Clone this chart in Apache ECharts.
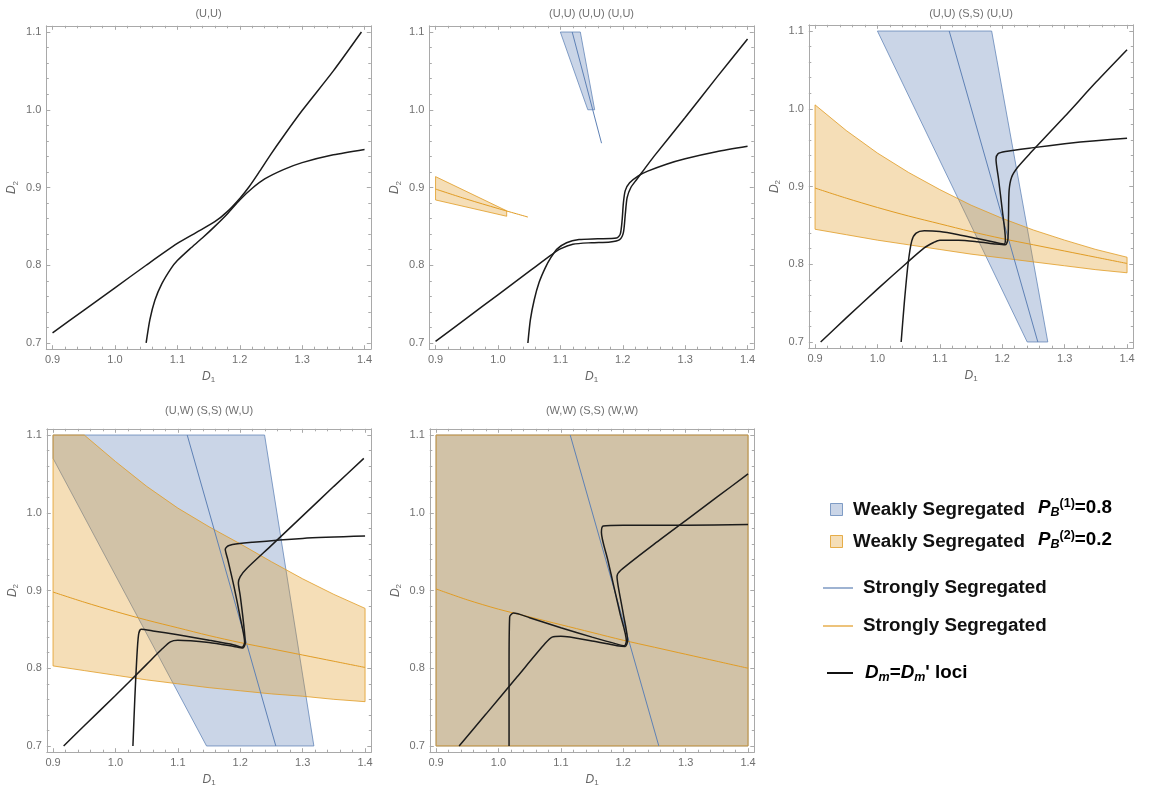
<!DOCTYPE html>
<html><head><meta charset="utf-8">
<script src="https://cdn.jsdelivr.net/npm/echarts@6/dist/echarts.min.js"></script>
<style>html,body{margin:0;padding:0;background:#fff}#c{width:1149px;height:789px}</style>
</head><body><div id="c"></div>
<script>
// ================= DATA =================
const xTicks = [0.9, 1.0, 1.1, 1.2, 1.3, 1.4];
const yTicks = [0.7, 0.8, 0.9, 1.0, 1.1];
const panelTitles = ['(U,U)', '(U,U) (U,U) (U,U)', '(U,U) (S,S) (U,U)', '(U,W) (S,S) (W,U)', '(W,W) (S,S) (W,W)'];

// x positions for band edges
const bandX = [0.9, 0.95, 1.0, 1.05, 1.1, 1.15, 1.2, 1.25, 1.3, 1.35, 1.4];
// orange (P_B(2)) weakly segregated band edges
const orangeUpper3 = [1.005, 0.972, 0.943, 0.918, 0.896, 0.876, 0.859, 0.844, 0.831, 0.819, 0.809];
const orangeLower3 = [0.845, 0.838, 0.831, 0.825, 0.819, 0.813, 0.808, 0.803, 0.798, 0.793, 0.789];
const orangeUpper4 = [1.1, 1.1, 1.066, 1.034, 1.006, 0.982, 0.96, 0.937, 0.915, 0.895, 0.877];
const orangeLower4 = [0.803, 0.797, 0.791, 0.785, 0.78, 0.775, 0.771, 0.767, 0.764, 0.76, 0.757];
// orange strongly segregated line
const orangeMid = [0.898, 0.885, 0.873, 0.862, 0.852, 0.842, 0.833, 0.825, 0.817, 0.809, 0.801];
const orangeMid5 = [0.902, 0.888, 0.876, 0.866, 0.856, 0.846, 0.836, 0.827, 0.818, 0.809, 0.80];
const orangeWedge2 = [[0.9, 0.914], [1.014, 0.870], [1.014, 0.863], [0.9, 0.884]];
const orangeMid2 = [[0.9, 0.898], [0.95, 0.885], [1.0, 0.873], [1.048, 0.862]];
const orangeRect5 = [[0.9, 1.1], [1.4, 1.1], [1.4, 0.7], [0.9, 0.7]];

// blue (P_B(1)) weakly segregated regions
const blueWedge2 = [[1.1, 1.1], [1.132, 1.1], [1.155, 1.0], [1.144, 1.0]];
const blueBand3 = [[1.0, 1.1], [1.183, 1.1], [1.273, 0.7], [1.24, 0.7]];
const blueBand4 = [[0.9, 1.1], [1.239, 1.1], [1.318, 0.7], [1.146, 0.7], [0.9, 1.07]];
const blueRect5 = [[0.9, 1.1], [1.4, 1.1], [1.4, 0.7], [0.9, 0.7]];
// blue strongly segregated line
const blueMid2 = [[1.119, 1.1], [1.166, 0.957]];
const blueMid = [[1.115, 1.1], [1.257, 0.7]];

// Dm = Dm' loci
const p1A = [[0.9,0.713],[0.95,0.742],[1.0,0.771],[1.05,0.800],[1.1,0.828],[1.13,0.842],[1.16,0.856],[1.18,0.869],[1.2,0.886],[1.215,0.901],[1.232,0.921],[1.25,0.943],[1.27,0.966],[1.3,0.999],[1.35,1.050],[1.395,1.1]];
const p1B = [[1.05,0.70],[1.056,0.73],[1.064,0.755],[1.075,0.776],[1.09,0.796],[1.1,0.806],[1.12,0.821],[1.14,0.835],[1.16,0.85],[1.18,0.866],[1.2,0.884],[1.22,0.899],[1.24,0.911],[1.27,0.923],[1.3,0.932],[1.35,0.942],[1.4,0.949]];
const p2A = [[0.9,0.702],[0.95,0.732],[1.0,0.762],[1.05,0.792],[1.085,0.813],[1.1,0.821],[1.12,0.827],[1.15,0.829],[1.18,0.830],[1.195,0.833],[1.201,0.842],[1.204,0.865],[1.207,0.887],[1.213,0.9],[1.222,0.91],[1.235,0.924],[1.25,0.94],[1.3,0.99],[1.35,1.041],[1.4,1.091]];
const p2B = [[1.048,0.7],[1.052,0.73],[1.058,0.755],[1.066,0.778],[1.076,0.797],[1.085,0.81],[1.095,0.821],[1.11,0.829],[1.13,0.833],[1.16,0.834],[1.19,0.835],[1.196,0.84],[1.199,0.858],[1.201,0.88],[1.204,0.896],[1.211,0.906],[1.225,0.915],[1.24,0.921],[1.27,0.93],[1.3,0.937],[1.35,0.946],[1.4,0.953]];
const p3A = [[0.909,0.70],[0.95,0.731],[1.0,0.768],[1.046,0.801],[1.075,0.821],[1.09,0.828],[1.1,0.831],[1.13,0.831],[1.16,0.829],[1.19,0.826],[1.205,0.825],[1.209,0.832],[1.21,0.86],[1.211,0.895],[1.215,0.912],[1.225,0.925],[1.245,0.943],[1.3,0.99],[1.35,1.034],[1.4,1.076]];
const p3B = [[1.038,0.70],[1.043,0.75],[1.049,0.80],[1.055,0.83],[1.062,0.84],[1.075,0.843],[1.1,0.842],[1.13,0.838],[1.16,0.833],[1.19,0.828],[1.203,0.826],[1.205,0.832],[1.2,0.87],[1.194,0.91],[1.19,0.935],[1.193,0.942],[1.205,0.945],[1.25,0.95],[1.3,0.955],[1.35,0.959],[1.4,0.962]];
const p4A = [[0.917,0.70],[0.95,0.726],[1.0,0.765],[1.05,0.805],[1.075,0.825],[1.088,0.834],[1.1,0.836],[1.15,0.833],[1.19,0.828],[1.204,0.826],[1.208,0.832],[1.205,0.86],[1.2,0.893],[1.197,0.91],[1.2,0.918],[1.21,0.928],[1.25,0.958],[1.3,0.996],[1.35,1.034],[1.398,1.07]];
const p4B = [[1.028,0.70],[1.031,0.76],[1.034,0.81],[1.037,0.843],[1.041,0.85],[1.06,0.848],[1.1,0.843],[1.15,0.836],[1.19,0.83],[1.203,0.827],[1.207,0.833],[1.2,0.865],[1.19,0.905],[1.18,0.94],[1.176,0.953],[1.182,0.958],[1.22,0.962],[1.3,0.967],[1.4,0.970]];
const p5A = [[0.937,0.70],[0.98,0.741],[1.03,0.789],[1.075,0.832],[1.086,0.84],[1.1,0.841],[1.15,0.835],[1.19,0.829],[1.203,0.828],[1.207,0.835],[1.2,0.87],[1.192,0.905],[1.19,0.918],[1.196,0.926],[1.25,0.96],[1.3,0.99],[1.35,1.02],[1.4,1.05]];
const p5B = [[1.017,0.70],[1.017,0.80],[1.018,0.866],[1.024,0.871],[1.05,0.865],[1.1,0.852],[1.15,0.84],[1.19,0.831],[1.202,0.829],[1.205,0.835],[1.195,0.87],[1.185,0.905],[1.175,0.94],[1.165,0.975],[1.168,0.983],[1.2,0.984],[1.3,0.984],[1.4,0.985]];

// ================= BUILD =================
const FONT = '"Liberation Sans", Arial, sans-serif';
const FR = '#a9a9a9';
const LBL = '#707070';
const XMIN = 0.89, XMAX = 1.41, YMIN = 0.692, YMAX = 1.108;
const W = 324.5, H = 323.4;
const layout = [
  {left: 46.3, top: 25.8}, {left: 429.3, top: 25.8}, {left: 808.8, top: 24.8},
  {left: 46.8, top: 428.8}, {left: 429.8, top: 428.8}
];
const titleY = [14, 14, 14, 411, 411];

function r2(v) { return Math.round(v * 100) / 100; }
const minorX = [], minorY = [];
for (let i = 0; i <= 26; i++) { const v = r2(0.88 + i * 0.02); if (v >= XMIN && v <= XMAX && Math.abs(v * 10 - Math.round(v * 10)) > 1e-6) minorX.push(v); }
for (let i = 0; i <= 21; i++) { const v = r2(0.68 + i * 0.02); if (v >= YMIN && v <= YMAX && Math.abs(v * 10 - Math.round(v * 10)) > 1e-6) minorY.push(v); }

const zipBand = (xs, up, lo) => xs.map((x, i) => [x, up[i]]).concat(xs.map((x, i) => [x, lo[i]]).reverse());
const zipLine = (xs, ys) => xs.map((x, i) => [x, ys[i]]);

const BLUE = 'rgb(94,129,181)', ORANGE = 'rgb(225,156,36)';
const BLUE_FILL = 'rgba(94,129,181,0.33)', ORANGE_FILL = 'rgba(225,156,36,0.33)';
const BLUE_EDGE = 'rgba(94,129,181,0.75)', ORANGE_EDGE = 'rgba(225,156,36,0.8)';

const nameRich = {
  i: {fontStyle: 'italic', fontSize: 12, color: '#666', fontFamily: FONT},
  s: {fontSize: 8, color: '#666', fontFamily: FONT, padding: [7, 0, 0, 0]}
};

const grid = [], xAxis = [], yAxis = [];
layout.forEach((L, g) => {
  grid.push({left: L.left, top: L.top, width: W, height: H});
  const bx = {gridIndex: g, type: 'value', min: XMIN, max: XMAX, splitLine: {show: false}, axisLabel: {show: false}, axisTick: {show: false}, axisLine: {show: false, onZero: false}};
  const by = {gridIndex: g, type: 'value', min: YMIN, max: YMAX, splitLine: {show: false}, axisLabel: {show: false}, axisTick: {show: false}, axisLine: {show: false, onZero: false}};
  const line = {show: true, onZero: false, lineStyle: {color: FR, width: 1}};
  const tickMaj = (vals) => ({show: true, inside: true, length: 4, customValues: vals, lineStyle: {color: FR}});
  const tickMin = (vals) => ({show: true, inside: true, length: 2.5, customValues: vals, lineStyle: {color: FR}});
  xAxis.push(Object.assign({}, bx, {position: 'bottom', axisLine: line, axisTick: tickMaj(xTicks),
    axisLabel: {show: true, customValues: xTicks, formatter: v => v.toFixed(1), color: LBL, fontSize: 11, margin: 5, fontFamily: FONT},
    name: '{i|D}{s|1}', nameLocation: 'middle', nameGap: 20, nameTextStyle: {rich: nameRich}}));
  xAxis.push(Object.assign({}, bx, {position: 'top', axisLine: line, axisTick: tickMaj(xTicks)}));
  xAxis.push(Object.assign({}, bx, {position: 'bottom', axisTick: tickMin(minorX)}));
  xAxis.push(Object.assign({}, bx, {position: 'top', axisTick: tickMin(minorX)}));
  yAxis.push(Object.assign({}, by, {position: 'left', axisLine: line, axisTick: tickMaj(yTicks),
    axisLabel: {show: true, customValues: yTicks, formatter: v => v.toFixed(1), color: LBL, fontSize: 11, margin: 5, fontFamily: FONT},
    name: '{i|D}{s|2}', nameLocation: 'middle', nameGap: 27, nameRotate: 90, nameTextStyle: {rich: nameRich}}));
  yAxis.push(Object.assign({}, by, {position: 'right', axisLine: line, axisTick: tickMaj(yTicks)}));
  yAxis.push(Object.assign({}, by, {position: 'left', axisTick: tickMin(minorY)}));
  yAxis.push(Object.assign({}, by, {position: 'right', axisTick: tickMin(minorY)}));
});

const series = [];
function poly(g, verts, fill, stroke) {
  series.push({
    type: 'custom', xAxisIndex: g * 4, yAxisIndex: g * 4, data: verts, encode: {x: 0, y: 1},
    silent: true, animation: false,
    renderItem: (params, api) => {
      if (params.dataIndex !== 0) return null;
      const pts = verts.map(v => api.coord(v));
      const cs = params.coordSys;
      return {type: 'polygon', shape: {points: pts}, style: {fill: fill, stroke: stroke, lineWidth: 1},
        clipPath: {type: 'rect', shape: {x: cs.x, y: cs.y, width: cs.width, height: cs.height}}};
    }
  });
}
function line(g, data, color, width, smooth) {
  series.push({type: 'line', xAxisIndex: g * 4, yAxisIndex: g * 4, data: data, showSymbol: false, symbol: 'none',
    smooth: smooth, lineStyle: {color: color, width: width}, silent: true, animation: false, clip: true});
}

// panel 2
poly(1, blueWedge2, BLUE_FILL, BLUE_EDGE);
poly(1, orangeWedge2, ORANGE_FILL, ORANGE_EDGE);
line(1, blueMid2, BLUE, 1, false);
line(1, orangeMid2, ORANGE, 1, 0.3);
// panel 3
poly(2, blueBand3, BLUE_FILL, BLUE_EDGE);
poly(2, zipBand(bandX, orangeUpper3, orangeLower3), ORANGE_FILL, ORANGE_EDGE);
line(2, blueMid, BLUE, 1, false);
line(2, zipLine(bandX, orangeMid), ORANGE, 1, 0.3);
// panel 4
poly(3, blueBand4, BLUE_FILL, BLUE_EDGE);
poly(3, zipBand(bandX, orangeUpper4, orangeLower4), ORANGE_FILL, ORANGE_EDGE);
line(3, blueMid, BLUE, 1, false);
line(3, zipLine(bandX, orangeMid), ORANGE, 1, 0.3);
// panel 5
poly(4, blueRect5, BLUE_FILL, BLUE_EDGE);
poly(4, orangeRect5, ORANGE_FILL, ORANGE_EDGE);
line(4, blueMid, BLUE, 1, false);
line(4, zipLine(bandX, orangeMid5), ORANGE, 1, 0.3);
// loci
const loci = [[p1A, p1B], [p2A, p2B], [p3A, p3B], [p4A, p4B], [p5A, p5B]];
loci.forEach((pair, g) => pair.forEach(d => line(g, d, '#1b1b1b', 1.5, 0.25)));

// ================= GRAPHICS (titles, legend) =================
const graphic = [];
layout.forEach((L, g) => {
  graphic.push({type: 'text', x: L.left + W / 2, y: titleY[g], silent: true,
    style: {text: panelTitles[g], align: 'center', verticalAlign: 'middle', fill: '#707070', font: '11px ' + FONT}});
});
const LS = 18.8;
const LF = 'bold ' + LS + 'px ' + FONT;
const subRich = {
  p: {fontStyle: 'italic', fontWeight: 'bold', fontSize: LS, fontFamily: FONT, color: '#111'},
  sb: {fontStyle: 'italic', fontWeight: 'bold', fontSize: 12.5, fontFamily: FONT, color: '#111', padding: [9, 0, 0, 0]},
  sp: {fontWeight: 'bold', fontSize: 12.5, fontFamily: FONT, color: '#111', padding: [0, 0, 9, 0]},
  n: {fontWeight: 'bold', fontSize: LS, fontFamily: FONT, color: '#111'},
  t: {fontWeight: 'bold', fontSize: LS, fontFamily: FONT, color: '#111'}
};
graphic.push(
  {type: 'rect', shape: {x: 830.5, y: 503.5, width: 12, height: 12}, style: {fill: BLUE_FILL, stroke: BLUE_EDGE, lineWidth: 1}},
  {type: 'text', x: 853, y: 510, style: {text: 'Weakly Segregated', font: LF, fill: '#111', verticalAlign: 'middle'}},
  {type: 'text', x: 1038, y: 508, style: {text: '{p|P}{sb|B}{sp|(1)}{n|=0.8}', rich: subRich, verticalAlign: 'middle'}},
  {type: 'rect', shape: {x: 830.5, y: 535.5, width: 12, height: 12}, style: {fill: ORANGE_FILL, stroke: ORANGE_EDGE, lineWidth: 1}},
  {type: 'text', x: 853, y: 542, style: {text: 'Weakly Segregated', font: LF, fill: '#111', verticalAlign: 'middle'}},
  {type: 'text', x: 1038, y: 540, style: {text: '{p|P}{sb|B}{sp|(2)}{n|=0.2}', rich: subRich, verticalAlign: 'middle'}},
  {type: 'line', shape: {x1: 823, y1: 588, x2: 853, y2: 588}, style: {stroke: BLUE, lineWidth: 1.5, opacity: 0.8}},
  {type: 'text', x: 863, y: 588, style: {text: 'Strongly Segregated', font: LF, fill: '#111', verticalAlign: 'middle'}},
  {type: 'line', shape: {x1: 823, y1: 626, x2: 853, y2: 626}, style: {stroke: ORANGE, lineWidth: 1.5, opacity: 0.8}},
  {type: 'text', x: 863, y: 626, style: {text: 'Strongly Segregated', font: LF, fill: '#111', verticalAlign: 'middle'}},
  {type: 'line', shape: {x1: 827, y1: 673, x2: 853, y2: 673}, style: {stroke: '#111', lineWidth: 2}},
  {type: 'text', x: 865, y: 673, style: {text: '{p|D}{sb|m}{n|=}{p|D}{sb|m}{t|\' loci}', rich: subRich, verticalAlign: 'middle'}}
);

const chart = echarts.init(document.getElementById('c'), null, {renderer: 'canvas'});
chart.setOption({animation: false, backgroundColor: '#fff', grid, xAxis, yAxis, series, graphic});
</script>
</body></html>
